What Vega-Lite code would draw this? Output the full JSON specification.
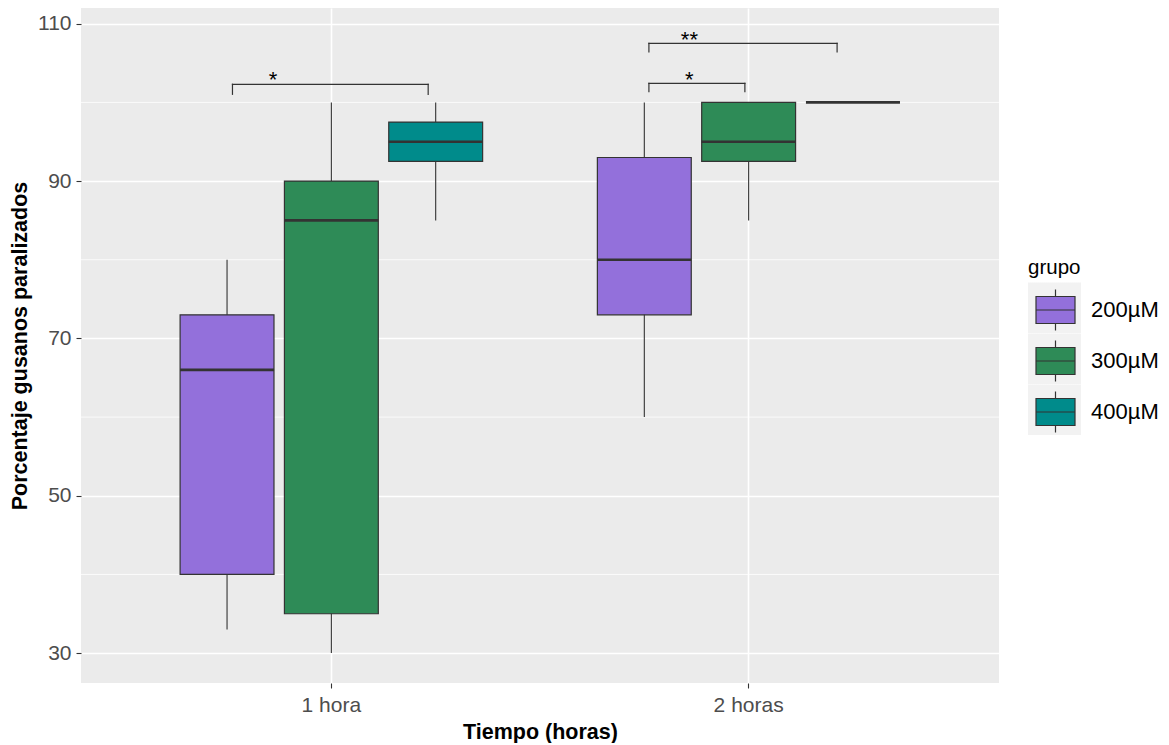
{
  "$schema": "https://vega.github.io/schema/vega-lite/v6.json",
  "width": 918,
  "height": 675,
  "padding": {"left": 9, "top": 8, "right": 0, "bottom": 0},
  "background": "white",
  "config": {
    "font": "Liberation Sans",
    "view": {"fill": "#EBEBEB", "stroke": null},
    "axis": {
      "domain": false,
      "tickColor": "#333333",
      "tickSize": 5,
      "tickWidth": 1.1,
      "labelColor": "#4D4D4D",
      "labelFontSize": 21,
      "labelFont": "Liberation Sans",
      "titleFont": "Liberation Sans",
      "titleFontSize": 21.5,
      "titleFontWeight": "bold",
      "titleColor": "#000000",
      "gridColor": "#FFFFFF",
      "gridWidth": 1.6
    },
    "legend": {
      "padding": 0,
      "titleFontSize": 20.5,
      "titleFontWeight": "normal",
      "titleColor": "#000000",
      "titleFont": "Liberation Sans",
      "titlePadding": 4,
      "labelFontSize": 22,
      "labelFont": "Liberation Sans",
      "labelColor": "#000000",
      "labelOffset": 8,
      "labelLimit": 0,
      "rowPadding": 0,
      "symbolSize": 2809,
      "symbolType": "M-0.736,-0.509H0.736V0.509H-0.736Z M-0.736,0H0.736 M0,-0.509V-0.774 M0,0.509V0.774",
      "symbolStrokeColor": "#333333",
      "symbolStrokeWidth": 1.2,
      "symbolOpacity": 1
    }
  },
  "datasets": {
    "cajas": [
      {"tiempo": "1 hora", "grupo": "200µM", "inferior": 33, "q1": 40, "mediana": 66, "q3": 73, "superior": 80},
      {"tiempo": "1 hora", "grupo": "300µM", "inferior": 30, "q1": 35, "mediana": 85, "q3": 90, "superior": 100},
      {"tiempo": "1 hora", "grupo": "400µM", "inferior": 85, "q1": 92.5, "mediana": 95, "q3": 97.5, "superior": 100},
      {"tiempo": "2 horas", "grupo": "200µM", "inferior": 60, "q1": 73, "mediana": 80, "q3": 93, "superior": 100},
      {"tiempo": "2 horas", "grupo": "300µM", "inferior": 85, "q1": 92.5, "mediana": 95, "q3": 100, "superior": 100},
      {"tiempo": "2 horas", "grupo": "400µM", "inferior": 100, "q1": 100, "mediana": 100, "q3": 100, "superior": 100}
    ],
    "llaves": [
      {"id": "a", "xmin": 0.763, "xmax": 1.232, "ytop": 102.3, "ybot": 101.03, "etiqueta": "*", "xlab": 0.86, "ylab": 102.0},
      {"id": "b", "xmin": 1.761, "xmax": 2.212, "ytop": 107.51, "ybot": 106.41, "etiqueta": "**", "xlab": 1.858, "ylab": 107.07},
      {"id": "c", "xmin": 1.761, "xmax": 1.991, "ytop": 102.43, "ybot": 101.36, "etiqueta": "*", "xlab": 1.858, "ylab": 102.0}
    ],
    "menor": [{"y": 40}, {"y": 60}, {"y": 80}, {"y": 100}]
  },
  "layer": [
    {
      "data": {"name": "menor"},
      "mark": {"type": "rule", "color": "#FFFFFF", "strokeWidth": 0.8},
      "encoding": {
        "y": {"field": "y", "type": "quantitative", "title": "Porcentaje gusanos paralizados", "scale": {"domain": [26.2, 112], "nice": false, "zero": false}, "axis": {"values": [30, 50, 70, 90, 110], "labelPadding": 5, "titlePadding": 6}}
      }
    },
    {
      "data": {"name": "cajas"},
      "encoding": {
        "x": {
          "field": "tiempo",
          "type": "nominal",
          "scale": {"paddingInner": 0.25, "paddingOuter": 0.225},
          "axis": {"title": "Tiempo (horas)", "grid": true, "bandPosition": 0.5, "labelAngle": 0, "labelPadding": 6, "titlePadding": 6}
        },
        "xOffset": {"field": "grupo", "type": "nominal", "scale": {"paddingInner": 0.1, "paddingOuter": 0.05}}
      },
      "layer": [
        {
          "mark": {"type": "rule", "color": "#333333", "strokeWidth": 1.1},
          "encoding": {
            "y": {"field": "inferior", "type": "quantitative", "title": "Porcentaje gusanos paralizados", "scale": {"domain": [26.2, 112], "nice": false, "zero": false}, "axis": {"values": [30, 50, 70, 90, 110], "labelPadding": 5, "titlePadding": 6}},
            "y2": {"field": "superior"}
          }
        },
        {
          "mark": {"type": "bar", "stroke": "#333333", "strokeWidth": 1.2, "opacity": 1},
          "encoding": {
            "y": {"field": "q1", "type": "quantitative", "title": "Porcentaje gusanos paralizados", "scale": {"domain": [26.2, 112], "nice": false, "zero": false}, "axis": {"values": [30, 50, 70, 90, 110], "labelPadding": 5, "titlePadding": 6}},
            "y2": {"field": "q3"},
            "fill": {
              "field": "grupo",
              "type": "nominal",
              "scale": {"domain": ["200µM", "300µM", "400µM"], "range": ["#9370DB", "#2E8B57", "#008B8B"]},
              "legend": {
                "title": "grupo",
                "orient": "none",
                "legendX": 947,
                "legendY": 250,
                "encode": {
                  "entries": {
                    "update": {
                      "fill": {
                        "value": {
                          "gradient": "linear",
                          "x1": 0, "y1": 0, "x2": 1, "y2": 0,
                          "stops": [
                            {"offset": 0, "color": "#F2F2F2"},
                            {"offset": 0.408, "color": "#F2F2F2"},
                            {"offset": 0.408, "color": "#FFFFFF"},
                            {"offset": 1, "color": "#FFFFFF"}
                          ]
                        }
                      }
                    }
                  }
                }
              }
            }
          }
        },
        {
          "mark": {"type": "tick", "color": "#333333", "thickness": 2.6, "size": 94, "opacity": 1},
          "encoding": {
            "y": {"field": "mediana", "type": "quantitative", "title": "Porcentaje gusanos paralizados", "scale": {"domain": [26.2, 112], "nice": false, "zero": false}, "axis": {"values": [30, 50, 70, 90, 110], "labelPadding": 5, "titlePadding": 6}}
          }
        }
      ]
    },
    {
      "data": {"name": "llaves"},
      "layer": [
        {
          "mark": {"type": "rule", "color": "#333333", "strokeWidth": 1.2, "strokeCap": "square"},
          "encoding": {
            "x": {"field": "xmin", "type": "quantitative", "scale": {"domain": [0.4, 2.6], "nice": false, "zero": false}, "axis": null},
            "x2": {"field": "xmax"},
            "y": {"field": "ytop", "type": "quantitative", "title": "Porcentaje gusanos paralizados", "scale": {"domain": [26.2, 112], "nice": false, "zero": false}, "axis": {"values": [30, 50, 70, 90, 110], "labelPadding": 5, "titlePadding": 6}}
          }
        },
        {
          "mark": {"type": "rule", "color": "#333333", "strokeWidth": 1.2, "strokeCap": "square"},
          "encoding": {
            "x": {"field": "xmin", "type": "quantitative", "scale": {"domain": [0.4, 2.6], "nice": false, "zero": false}, "axis": null},
            "y": {"field": "ybot", "type": "quantitative", "title": "Porcentaje gusanos paralizados", "scale": {"domain": [26.2, 112], "nice": false, "zero": false}, "axis": {"values": [30, 50, 70, 90, 110], "labelPadding": 5, "titlePadding": 6}},
            "y2": {"field": "ytop"}
          }
        },
        {
          "mark": {"type": "rule", "color": "#333333", "strokeWidth": 1.2, "strokeCap": "square"},
          "encoding": {
            "x": {"field": "xmax", "type": "quantitative", "scale": {"domain": [0.4, 2.6], "nice": false, "zero": false}, "axis": null},
            "y": {"field": "ybot", "type": "quantitative", "title": "Porcentaje gusanos paralizados", "scale": {"domain": [26.2, 112], "nice": false, "zero": false}, "axis": {"values": [30, 50, 70, 90, 110], "labelPadding": 5, "titlePadding": 6}},
            "y2": {"field": "ytop"}
          }
        },
        {
          "mark": {"type": "text", "color": "#000000", "fontSize": 22, "align": "center", "baseline": "alphabetic", "font": "Liberation Sans"},
          "encoding": {
            "x": {"field": "xlab", "type": "quantitative", "scale": {"domain": [0.4, 2.6], "nice": false, "zero": false}, "axis": null},
            "y": {"field": "ylab", "type": "quantitative", "title": "Porcentaje gusanos paralizados", "scale": {"domain": [26.2, 112], "nice": false, "zero": false}, "axis": {"values": [30, 50, 70, 90, 110], "labelPadding": 5, "titlePadding": 6}},
            "text": {"field": "etiqueta"}
          }
        }
      ]
    }
  ],
  "resolve": {"scale": {"x": "independent"}}
}
